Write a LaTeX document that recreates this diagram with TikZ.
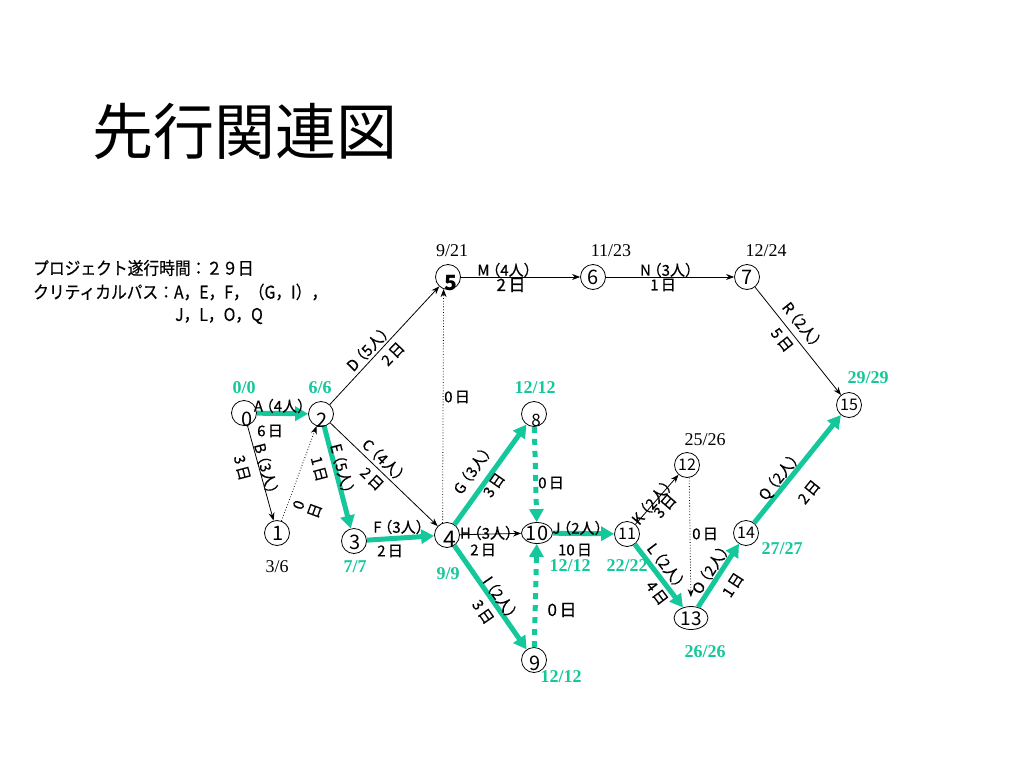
\documentclass[tikz,border=0pt]{standalone}
\usepackage{fontspec}
\setmainfont{Liberation Serif}
\newfontfamily\jp{Noto Sans CJK JP}
\newfontfamily\jpl[FakeBold=0.4]{Noto Sans CJK JP}
\newfontfamily\jpn[FakeStretch=0.9,FakeBold=0.4]{Noto Sans CJK JP}
\usetikzlibrary{arrows.meta,shapes.geometric}
\definecolor{crit}{RGB}{20,200,155}
\newcommand\lpar{\hspace{-0.28em}（}
\newcommand\rpar{）\hspace{-0.28em}}
\newcommand\dd[1]{#1\hspace{0.15em}日}
\tikzset{
  nd/.style={circle,draw,line width=0.8pt,minimum size=25pt,inner sep=0pt},
  el/.style={ellipse,draw,line width=0.8pt,inner sep=0pt},
  num/.style={font=\jp\fontsize{20}{20}\selectfont,inner sep=0pt},
  num2/.style={font=\jp\fontsize{16}{16}\selectfont,inner sep=0pt},
  lb/.style={font=\jpl\fontsize{15}{15}\selectfont,inner sep=0pt},
  nt/.style={font=\jpn\fontsize{17.5}{17.5}\selectfont,inner sep=0pt,anchor=west},
  tm/.style={font=\fontsize{18}{18}\selectfont,inner sep=0pt},
  gt/.style={font=\bfseries\fontsize{18}{18}\selectfont,text=crit,inner sep=0pt},
  cr/.style={crit,line width=5pt,-{Triangle[length=13pt,width=14pt]}},
  crd/.style={crit,line width=5pt,dash pattern=on 6pt off 6pt,-{Triangle[length=13pt,width=14pt]}},
  bl/.style={black,line width=0.8pt,-{Stealth[length=8pt,width=6pt]}},
  dm/.style={black,line width=0.8pt,dotted,-{Stealth[length=8pt,width=6pt]}},
}
\begin{document}
\begin{tikzpicture}[x=1pt,y=-1pt]
\fill[white] (0,0) rectangle (1024,768);
\path[use as bounding box] (0,0) rectangle (1024,768);

% title and notes
\node[font=\jp\fontsize{61}{61}\selectfont,inner sep=0pt] (title) at (245,131) {先行関連図};
\node[nt] (note1) at (33,268) {プロジェクト遂行時間：２９日};
\node[nt] (note2) at (33,292) {クリティカルパス：A，E，F，（G，I），};
\node[nt] (note3) at (175,316) {J，L，O，Q};

% event nodes
\node[nd] (n0) at (244,413) {};  \node[num] (n0t) at (247,419) {0};
\node[nd] (n2) at (321,414) {};  \node[num] (n2t) at (322,420) {2};
\node[nd] (n1) at (277,533) {};  \node[num] (n1t) at (278,533) {1};
\node[nd] (n3) at (354,541) {};  \node[num] (n3t) at (355,542) {3};
\node[nd] (n4) at (447,535) {};  \node[num,font=\jp\fontsize{23}{23}\selectfont] (n4t) at (450,539) {4};
\node[nd] (n5) at (448,277) {};  \node[num,font=\jp\bfseries\fontsize{21}{21}\selectfont] (n5t) at (451,283) {5};
\node[nd] (n6) at (593,277) {};  \node[num] (n6t) at (593,277) {6};
\node[nd] (n7) at (747,277) {};  \node[num] (n7t) at (747,277) {7};
\node[nd] (n8) at (534,414) {};  \node[num,font=\jp\fontsize{17}{17}\selectfont] (n8t) at (536,420) {8};
\node[el,minimum width=31pt,minimum height=21pt] (n10) at (537,533) {};
\node[num,font=\jp\fontsize{20}{20}\selectfont] (n10t) at (537,533) {10};
\node[nd] (n9) at (534,660) {};  \node[num] (n9t) at (535,663) {9};
\node[nd] (n11) at (627,534) {}; \node[num2] (n11t) at (627,534) {11};
\node[nd] (n12) at (687,465) {}; \node[num2] (n12t) at (687,465) {12};
\node[el,minimum width=34pt,minimum height=23pt] (n13) at (691,618) {};
\node[num,font=\jp\fontsize{19}{19}\selectfont] (n13t) at (691,619) {13};
\node[nd] (n14) at (746,533) {}; \node[num2] (n14t) at (746,533) {14};
\node[nd] (n15) at (849,405) {}; \node[num2] (n15t) at (849,405) {15};

% critical activities
\draw[cr] (n0) -- (n2);
\draw[cr] (n2) -- (n3);
\draw[cr] (n3) -- (n4);
\draw[cr] (n4) -- (n8);
\draw[cr] (n4) -- (n9);
\draw[crd] (n8) -- (n10);
\draw[crd] (n9) -- (n10);
\draw[cr] (n10) -- (n11);
\draw[cr] (n11) -- (n13);
\draw[cr] (n13) -- (n14);
\draw[cr] (n14) -- (n15);

% other activities
\draw[bl] (n0) -- (n1);
\draw[dm] (n1) -- (n2);
\draw[bl] (n2) -- (n5);
\draw[bl] (n2) -- (n4);
\draw[dm] (n4.110) -- (n5.250);
\draw[bl] (n4) -- (n10);
\draw[bl] (n11) -- (n12);
\draw[dm,shorten >=9pt] (n12.280) -- (n13.north);
\draw[bl] (n5) -- (n6);
\draw[bl] (n6) -- (n7);
\draw[bl] (n7) -- (n15);

% activity labels
\node[lb] (la1) at (283,406) {A\lpar 4人\rpar};
\node[lb] (la2) at (270,431) {\dd{6}};
\node[lb,rotate=-75] (lb1) at (267,472) {B\lpar 3人\rpar};
\node[lb,rotate=-75] (lb2) at (242,468) {\dd{3}};
\node[lb,rotate=70,align=center] (l12) at (307,508) {0\\[2pt]日};
\node[lb,rotate=-75] (le1) at (343,472) {E\lpar 5人\rpar};
\node[lb,rotate=-75] (le2) at (319,469) {\dd{1}};
\node[lb,rotate=-44] (lc1) at (386,462) {C\lpar 4人\rpar};
\node[lb,rotate=-44] (lc2) at (372,479) {\dd{2}};
\node[lb,rotate=46] (ld1) at (370,347) {D\lpar 5人\rpar};
\node[lb,rotate=46] (ld2) at (393,354) {\dd{2}};
\node[lb] (lf1) at (402,527) {F\lpar 3人\rpar};
\node[lb] (lf2) at (390,551) {\dd{2}};
\node[lb] (l45) at (457,397) {\dd{0}};
\node[lb,rotate=55] (lg1) at (474,468) {G\lpar 3人\rpar};
\node[lb,rotate=55] (lg2) at (494,485) {\dd{3}};
\node[lb] (lh1) at (490,533) {H\lpar 3人\rpar};
\node[lb] (lh2) at (483,550) {\dd{2}};
\node[lb,rotate=-55] (li1) at (502,600) {I\lpar 2人\rpar};
\node[lb,rotate=-55] (li2) at (483,612) {\dd{3}};
\node[lb] (l810) at (551,483) {\dd{0}};
\node[lb,font=\jpl\fontsize{17}{17}\selectfont] (l910) at (562,610) {\dd{0}};
\node[lb] (lj1) at (581,528) {J\lpar 2人\rpar};
\node[lb] (lj2) at (575,550) {\dd{10}};
\node[lb,rotate=49] (lk1) at (654,500) {K\lpar 2人\rpar};
\node[lb,rotate=49] (lk2) at (665,506) {\dd{3}};
\node[lb,rotate=-53] (ll1) at (668,568) {L\lpar 2人\rpar};
\node[lb,rotate=-53] (ll2) at (657,593) {\dd{4}};
\node[lb] (l1213) at (705,534) {\dd{0}};
\node[lb,rotate=57] (lo1) at (712,567) {O\lpar 2人\rpar};
\node[lb,rotate=57] (lo2) at (733,585) {\dd{1}};
\node[lb,rotate=51] (lq1) at (781,475) {Q\lpar 2人\rpar};
\node[lb,rotate=51] (lq2) at (809,492) {\dd{2}};
\node[lb] (lm1) at (508,270) {M\lpar 4人\rpar};
\node[lb,font=\jpl\fontsize{17}{17}\selectfont] (lm2) at (511,285) {\dd{2}};
\node[lb] (ln1) at (670,270) {N\lpar 3人\rpar};
\node[lb] (ln2) at (663,285) {\dd{1}};
\node[lb,rotate=-51.5] (lr1) at (804,327) {R\lpar 2人\rpar};
\node[lb,rotate=-51.5] (lr2) at (782,340) {\dd{5}};

% event times
\node[tm] (t5) at (452,251) {9/21};
\node[tm] (t6) at (611,251) {11/23};
\node[tm] (t7) at (766,251) {12/24};
\node[tm] (t1) at (277,567) {3/6};
\node[tm] (t12) at (705,440) {25/26};
\node[gt] (t0) at (244,388) {0/0};
\node[gt] (t2) at (320,388) {6/6};
\node[gt] (t3) at (355,567) {7/7};
\node[gt] (t4) at (448,574) {9/9};
\node[gt] (t8) at (535,388) {12/12};
\node[gt] (t10) at (570,566) {12/12};
\node[gt] (t9) at (561,677) {12/12};
\node[gt] (t11) at (627,566) {22/22};
\node[gt] (t13) at (705,652) {26/26};
\node[gt] (t14) at (782,549) {27/27};
\node[gt] (t15) at (868,378) {29/29};
\end{tikzpicture}
\end{document}
